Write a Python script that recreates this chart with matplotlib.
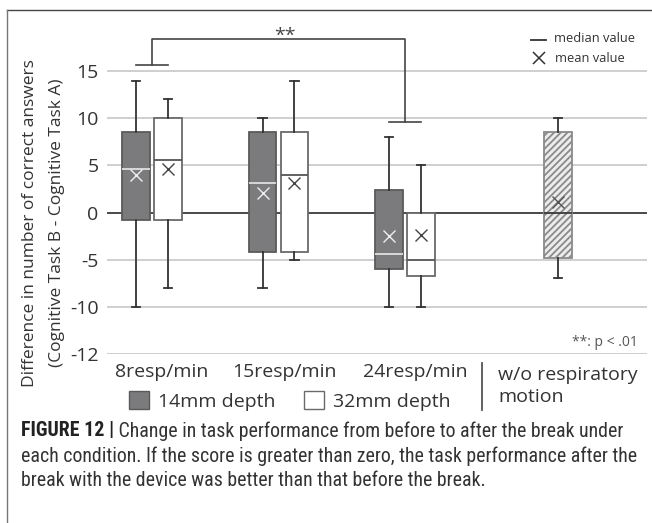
import matplotlib
matplotlib.use("Agg")
import matplotlib.pyplot as plt
from matplotlib import font_manager
from matplotlib.patches import Patch
from matplotlib.lines import Line2D

# ---------------- data ----------------
groups = ["8resp/min", "15resp/min", "24resp/min"]
conditions = ["14mm depth", "32mm depth"]
# per box: (whislo, q1, med, q3, whishi, mean)
whislo_14 = [-10, -8, -10]
q1_14 = [-0.8, -4.2, -6.0]
med_14 = [4.6, 3.1, -4.4]
q3_14 = [8.5, 8.5, 2.4]
whishi_14 = [14, 10, 8]
mean_14 = [4.0, 2.1, -2.5]

whislo_32 = [-8, -5, -10]
q1_32 = [-0.8, -4.2, -6.7]
med_32 = [5.6, 4.0, -5.0]
q3_32 = [10, 8.5, 0.0]
whishi_32 = [12, 14, 5]
mean_32 = [4.6, 3.1, -2.4]

nomotion_label = "w/o respiratory\nmotion"
nomotion_stats = dict(whislo=-6.9, q1=-4.8, med=0.0, q3=8.5, whishi=10, mean=1.1)

ytick_pos = [15, 10, 5, 0, -5, -10, -15]
ytick_labels = ["15", "10", "5", "0", "-5", "-10", "-12"]

sig_text = "**"
sig_note = "**: p < .01"
caption_bold = "FIGURE 12 |"
caption_lines = [
    " Change in task performance from before to after the break under",
    "each condition. If the score is greater than zero, the task performance after the",
    "break with the device was better than that before the break.",
]

# ---------------- fonts ----------------
avail = {f.name for f in font_manager.fontManager.ttflist}
main_font = "Open Sans" if "Open Sans" in avail else "DejaVu Sans"
cap_font = "DejaVu Sans"
for cand in ["Liberation Sans Narrow", "DejaVu Sans Condensed", "Roboto Condensed", "Liberation Sans"]:
    if cand in avail:
        cap_font = cand
        break
plt.rcParams["font.family"] = [main_font, "DejaVu Sans"]

W, H = 652, 523
fig = plt.figure(figsize=(W / 100, H / 100), dpi=100)

# axes placement (pixels -> figure fraction)
ax_l, ax_r = 107, 647
ax_top_px, ax_bot_px = 24, 354
ax = fig.add_axes([ax_l / W, 1 - ax_bot_px / H, (ax_r - ax_l) / W, (ax_bot_px - ax_top_px) / H])
ax.set_ylim(-15, 20)
ax.set_xlim(0.644, 4.913)

for s in ax.spines.values():
    s.set_visible(False)
ax.set_yticks(ytick_pos)
ax.set_yticklabels(ytick_labels, fontsize=14, color="#333333")
ax.tick_params(axis="y", length=0, pad=6)
ax.set_xticks([])
for y in ytick_pos:
    if y != 0:
        ax.axhline(y, color="#cfcfcf", lw=1.4, zorder=0)
ax.axhline(0, color="#3a3a3a", lw=1.3, zorder=1)

# ---------------- boxes ----------------
centers = [1, 2, 3]
off = 0.126
bw = 0.215
nomotion_pos = 4.21


def mk(wl, a, m, b, wh, mn):
    return dict(whislo=wl, q1=a, med=m, q3=b, whishi=wh, mean=mn, fliers=[])


stats14 = [mk(*v) for v in zip(whislo_14, q1_14, med_14, q3_14, whishi_14, mean_14)]
stats32 = [mk(*v) for v in zip(whislo_32, q1_32, med_32, q3_32, whishi_32, mean_32)]
statsnm = [dict(nomotion_stats, fliers=[])]

common = dict(widths=bw, patch_artist=True, showmeans=True, capwidths=0.065,
              whiskerprops=dict(color="#333333", lw=1.3),
              capprops=dict(color="#333333", lw=1.3), manage_ticks=False, zorder=3)

b14 = ax.bxp(stats14, positions=[c - off for c in centers],
             boxprops=dict(facecolor="#7b7b7d", edgecolor="#5a5a5a", lw=1.3),
             medianprops=dict(color="#d8d8d8", lw=1.4),
             meanprops=dict(marker="x", markeredgecolor="#eeeeee", markersize=8.5, markeredgewidth=1.0),
             **common)
b32 = ax.bxp(stats32, positions=[c + off for c in centers],
             boxprops=dict(facecolor="white", edgecolor="#6a6a6a", lw=1.3),
             medianprops=dict(color="#555555", lw=1.3),
             meanprops=dict(marker="x", markeredgecolor="#444444", markersize=8.5, markeredgewidth=1.0),
             **common)
plt.rcParams["hatch.color"] = "#a8a8a8"
plt.rcParams["hatch.linewidth"] = 1.3
bnm = ax.bxp(statsnm, positions=[nomotion_pos],
             boxprops=dict(facecolor="#ececec", edgecolor="#8a8a8a", lw=1.3, hatch="/////"),
             medianprops=dict(color="#3a3a3a", lw=1.3),
             meanprops=dict(marker="x", markeredgecolor="#555555", markersize=8.5, markeredgewidth=1.0),
             **common)

# ---------------- significance bracket ----------------
top_y = 18.4
left_leg, right_leg = 15.7, 9.65
bc = "#444444"
ax.plot([centers[0], centers[0], centers[2], centers[2]],
        [left_leg, top_y, top_y, right_leg], color=bc, lw=1.2, clip_on=False, zorder=4)
ax.plot([centers[0] - off, centers[0] + off], [left_leg, left_leg], color=bc, lw=1.2, clip_on=False)
ax.plot([centers[2] - off, centers[2] + off], [right_leg, right_leg], color=bc, lw=1.2, clip_on=False)
ax.text((centers[0] + centers[2]) / 2 + 0.05, top_y - 0.6, sig_text, ha="center", va="bottom",
        fontsize=14, color="#444444", clip_on=False)

# ---------------- median / mean key ----------------
fig.text(554 / W, 1 - 39 / H, "median value", fontsize=9.3, va="center", ha="left", color="#333333")
fig.text(555 / W, 1 - 58 / H, "mean value", fontsize=9.3, va="center", ha="left", color="#333333")
fig.add_artist(Line2D([531 / W, 546 / W], [1 - 40 / H, 1 - 40 / H], color="#333333", lw=1.3))
fig.add_artist(Line2D([539 / W], [1 - 58 / H], marker="x", markersize=8.5, markeredgewidth=1.1,
                      color="#333333", linestyle="none"))

fig.text(638 / W, 1 - 343 / H, sig_note, fontsize=10, ha="right", va="center", color="#555555")

# ---------------- category labels ----------------
label_x_px = [162, 284, 415]
for lx, g in zip(label_x_px, groups):
    fig.text(lx / W, 1 - 372 / H, g, fontsize=14, ha="center", va="center", color="#333333")
fig.text(498 / W, 1 - 386 / H, nomotion_label, fontsize=14, ha="left", va="center",
         color="#333333", linespacing=1.25)
fig.add_artist(Line2D([482 / W, 482 / W], [1 - 363 / H, 1 - 410 / H], color="#555555", lw=1.3))

# legend for depth
handles = [Patch(facecolor="#7b7b7d", edgecolor="#5a5a5a", lw=1.0),
           Patch(facecolor="white", edgecolor="#6a6a6a", lw=1.0)]
leg = fig.legend(handles, conditions, loc="center left", bbox_to_anchor=(129 / W, 1 - 401 / H),
                 ncol=2, frameon=False, fontsize=14, handlelength=1.05, handleheight=1.05,
                 handletextpad=0.45, columnspacing=1.45, borderpad=0, borderaxespad=0)
for t in leg.get_texts():
    t.set_color("#333333")

# ---------------- y label ----------------
fig.text(30 / W, 1 - 223 / H, "Difference in number of correct answers", rotation=90,
         fontsize=12.5, ha="center", va="center", color="#333333")
fig.text(57 / W, 1 - 223 / H, "(Cognitive Task B - Cognitive Task A)", rotation=90,
         fontsize=12.5, ha="center", va="center", color="#333333")

# ---------------- frame ----------------
fig.add_artist(Line2D([7 / W, 1], [1 - 10 / H, 1 - 10 / H], color="#444444", lw=1.0))
fig.add_artist(Line2D([7 / W, 7 / W], [1 - 10 / H, 0], color="#777777", lw=1.0))

# ---------------- caption ----------------
cap_y = [431, 456, 481]
cap_fs = 14.3
t0 = fig.text(21 / W, 1 - cap_y[0] / H, caption_bold, fontsize=cap_fs, fontweight="bold",
              family=[cap_font, "DejaVu Sans"], ha="left", va="center", color="#222222")
fig.canvas.draw()
bb = t0.get_window_extent()
fig.text(bb.x1 / W, 1 - cap_y[0] / H, caption_lines[0], fontsize=cap_fs,
         family=[cap_font, "DejaVu Sans"], ha="left", va="center", color="#333333")
for yy, line in zip(cap_y[1:], caption_lines[1:]):
    fig.text(21 / W, 1 - yy / H, line, fontsize=cap_fs, family=[cap_font, "DejaVu Sans"],
             ha="left", va="center", color="#333333")

fig.savefig("out.png", dpi=100)
